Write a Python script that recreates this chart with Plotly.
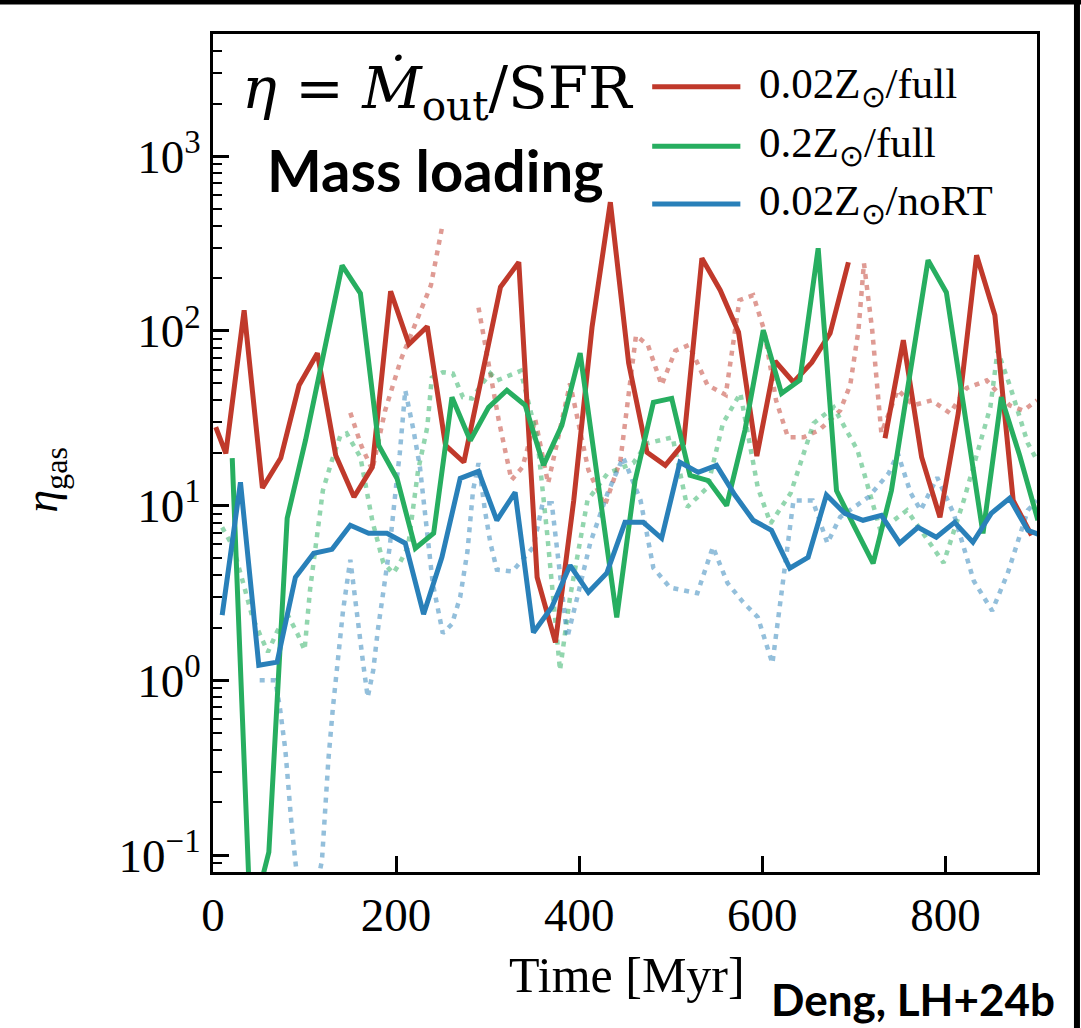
import plotly.graph_objects as go

# ---------------- data ----------------
t_red = [3, 14, 34, 54, 74, 94, 114, 134, 154, 174, 194, 214, 234, 254, 274, 294, 314, 334, 354, 374,
         394, 414, 434, 454, 474, 494, 514, 534, 554, 574, 594, 614, 634, 654, 674, 694, 714, 734, 754, 774,
         794, 814, 834, 854, 874, 894]
eta_red = [28.1, 19.9, 131, 12.6, 18.7, 48.8, 74.5, 19.4, 11.2, 16.6, 168.6, 83.8, 106, 22.1, 17.7, 58, 178, 247, 3.89, 1.65,
           10.7, 105, 545, 65.3, 20.2, 17.0, 22.7, 260, 171, 98.2, 19.2, 67, 50.8, 66, 96.9, 247, None, 24.3, 88.4, 18.9,
           8.57, 33.8, 271, 123, 10.7, 6.76]

t_green = [21, 41, 61, 81, 101, 121, 141, 161, 181, 201, 221, 241, 261, 281, 301, 321, 341, 361, 381, 401,
           421, 441, 461, 481, 501, 521, 541, 561, 581, 601, 621, 641, 661, 681, 701, 721, 741, 761, 781, 801,
           821, 841, 861, 881, 901]
eta_green = [18.7, 0.04, 0.104, 8.46, 23.6, 77.4, 237, 164, 22.1, 14.3, 5.7, 6.94, 41.7, 23.6, 36.5, 45.7, 37.5, 17.0, 28.8, 74.5,
             13.8, 2.29, 13.9, 39, 41.1, 14.9, 13.9, 10.0, 27.0, 101, 43.9, 52.2, 297, 12.2, 7.5, 4.67, 12.2, 55.7, 254, 166,
             35.1, 6.94, 41.7, 19.4, 8.24]

t_blue = [10, 30, 50, 70, 90, 110, 130, 150, 170, 190, 210, 230, 250, 270, 290, 310, 330, 350, 370, 390,
          410, 430, 450, 470, 490, 510, 530, 550, 570, 590, 610, 630, 650, 670, 690, 710, 730, 750, 770, 790,
          810, 830, 850, 870, 890, 910]
eta_blue = [2.36, 13.6, 1.22, 1.27, 3.89, 5.33, 5.62, 7.71, 6.94, 6.94, 6.09, 2.39, 5.06, 14.3, 15.7, 8.24, 11.9, 1.88, 2.62, 4.55,
            3.19, 4.1, 8.02, 8.02, 6.5, 17.7, 15.5, 17.0, 11.5, 8.24, 7.22, 4.38, 5.06, 11.5, 9.03, 8.24, 8.8, 6.09, 7.51, 6.59,
            8.02, 6.17, 9.03, 11.0, 7.22, 6.59]

# faded dotted companions
t_red_dot = [150, 162, 174, 188, 205, 222, 238, 250, 268, 290, 300, 312, 326, 338, 352, 366, 390, 410, 428, 445,
             462, 475, 490, 505, 520, 540, 560, 575, 590, 602, 615, 628, 645, 662, 685, 696, 705, 711, 720, 730,
             748, 765, 785, 805, 823, 845, 870, 885, 900]
eta_red_dot = [34, 22, 16, 35, 68, 115, 182, 387, None, 136, 68, 31, 14, 16.6, 31, 13.4, 50, 16, 10, 18.2,
               94, 83, 49, 77, 83, 49, 43, 150, 160, 101, 40, 24.6, 24.6, 27, 35, 49, 101, 244, 101, 26,
               46, 37.5, 40, 33.8, 47, 52, 37.5, 35, 40]

t_green_dot = [10, 22, 33, 43, 54, 60, 70, 81, 92, 100, 106, 115, 120, 130, 139, 146, 161, 174, 186, 197,
               204, 213, 224, 234, 239, 251, 262, 273, 283, 294, 303, 310, 336, 354, 365, 379, 390, 409, 431, 459,
               474, 502, 518, 540, 557, 576, 595, 609, 631, 656, 678, 704, 729, 758, 798, 820, 849, 857, 871, 890, 900]
eta_green_dot = [7.5, 5.8, 3.6, 2.3, 1.7, 1.45, 1.9, 2.4, 1.86, 1.49, 3.3, 7.5, 12.2, 18.2, 25, 25.9, 18.9, 8.2, 4.7, 4.1,
                 4.7, 5.8, 15.9, 28, 54, 58, 57, 41.7, 41, 50, 57, 52, 59, 24.6, 6.9, 1.14, 3.0, 10.7, 15.3, 17.5,
                 22.7, 24.6, 9.8, 12.7, 29.6, 44, 12.7, 7.9, 11.8, 29.6, 36.5, 20.7, 7.2, 9.4, 4.7, 10.7, 36.5, 77, 47.5, 22.7, 18.2]

t_blue_dot = [51, 68, 73, 79, 82, 86, 100, 119, 122, 126, 131, 137, 142, 150, 153, 158, 164, 169, 175, 180,
              186, 193, 201, 204, 210, 219, 226, 234, 240, 251, 261, 270, 278, 284, 290, 297, 303, 310, 327, 350,
              360, 370, 377, 387, 398, 412, 431, 448, 467, 481, 499, 529, 546, 562, 579, 595, 611, 622, 634, 655,
              671, 685, 716, 738, 748, 762, 773, 791, 809, 831, 851, 868, 890, 900]
eta_blue_dot = [1.0, 1.0, 0.70, 0.40, 0.26, 0.144, 0.03, 0.093, 0.164, 0.35, 0.70, 1.49, 2.5, 4.9, 3.6, 2.1, 1.25, 0.80, 1.14, 1.93,
                3.3, 5.8, 14.5, 19.9, 45.7, 27, 16.6, 7.2, 3.6, 1.86, 2.1, 3.0, 5.5, 12.2, 17.5, 9.4, 6.1, 4.3, 4.2, 5.8,
                10.3, 10.3, 5.1, 1.76, 3.0, 6.1, 11.8, 18.9, 10.7, 4.4, 3.4, 3.15, 5.8, 3.6, 2.8, 2.3, 1.25, 3.7, 10.7, 10.7,
                6.1, 8.6, 11.2, 15.3, 19.9, 11.8, 9.4, 14.5, 9.0, 3.7, 2.5, 4.1, 9.4, 10.7]

legend_labels = ["0.02Z<sub>⊙</sub>/full", "0.2Z<sub>⊙</sub>/full", "0.02Z<sub>⊙</sub>/noRT"]
y_tick_vals = [0.1, 1, 10, 100, 1000]
y_tick_text = ["10<sup>−1</sup>", "10<sup>0</sup>", "10<sup>1</sup>", "10<sup>2</sup>", "10<sup>3</sup>"]
x_tick_vals = [0, 200, 400, 600, 800]

RED, GREEN, BLUE = "#c0392b", "#27ae60", "#2980b9"
SERIF = "Liberation Serif"
SANS = "Lato"

fig = go.Figure()

for t, v, c in [(t_red_dot, eta_red_dot, RED), (t_green_dot, eta_green_dot, GREEN), (t_blue_dot, eta_blue_dot, BLUE)]:
    fig.add_trace(go.Scatter(x=t, y=v, mode="lines", opacity=0.5, showlegend=False,
                             line=dict(color=c, width=4.5, dash="5px,6px"), connectgaps=False))

for t, v, c, name in [(t_red, eta_red, RED, legend_labels[0]), (t_green, eta_green, GREEN, legend_labels[1]),
                      (t_blue, eta_blue, BLUE, legend_labels[2])]:
    fig.add_trace(go.Scatter(x=t, y=v, mode="lines", name=name, showlegend=False,
                             line=dict(color=c, width=5), connectgaps=False))

# manual legend (long line samples like the original)
leg_y = [0.937, 0.866, 0.797]
for c, lab, yy in zip([RED, GREEN, BLUE], legend_labels, leg_y):
    fig.add_shape(type="line", xref="paper", yref="paper", x0=0.533, x1=0.640, y0=yy, y1=yy,
                  line=dict(color=c, width=5))
    fig.add_annotation(xref="paper", yref="paper", x=0.660, y=yy, xanchor="left", yanchor="middle",
                       text=lab, showarrow=False, font=dict(family=SERIF, size=43, color="black"))

# outer frame edges visible in the original picture (top and right)
fig.add_shape(type="line", xref="paper", yref="paper", x0=-0.26, x1=1.054, y0=1.0382, y1=1.0382,
              line=dict(color="black", width=5))
fig.add_shape(type="line", xref="paper", yref="paper", x0=1.0485, x1=1.0485, y0=-0.19, y1=1.041,
              line=dict(color="black", width=6))

minor_vals = [m * 10 ** e for e in range(-2, 4) for m in range(2, 10)]

fig.update_layout(
    width=1081, height=1028,
    margin=dict(l=213, r=44, t=34, b=156),
    paper_bgcolor="white", plot_bgcolor="white",
    showlegend=False,
    xaxis=dict(range=[0, 900], tickvals=x_tick_vals, ticks="inside", ticklen=16, tickwidth=3, tickcolor="black",
               showline=True, linecolor="black", linewidth=3, mirror=True, showgrid=False, zeroline=False,
               tickfont=dict(family=SERIF, size=47, color="black")),
    yaxis=dict(type="log", range=[-1.097, 3.699], tickvals=y_tick_vals, ticktext=y_tick_text,
               ticks="inside", ticklen=16, tickwidth=3, tickcolor="black",
               minor=dict(tickvals=minor_vals, ticks="inside", ticklen=9, tickwidth=2, tickcolor="black", showgrid=False),
               showline=True, linecolor="black", linewidth=3, mirror=True, showgrid=False, zeroline=False,
               tickfont=dict(family=SERIF, size=47, color="black")),
)

# axis titles and text annotations
fig.add_annotation(xref="paper", yref="paper", x=0.503, y=-0.123, text="Time [Myr]", showarrow=False,
                   xanchor="center", yanchor="middle", font=dict(family=SERIF, size=50, color="black"))
fig.add_annotation(xref="paper", yref="paper", x=-0.204, y=0.468, text="<i>η</i><sub>gas</sub>", showarrow=False,
                   textangle=-90, xanchor="center", yanchor="middle", font=dict(family=SERIF, size=46, color="black"))
fig.add_annotation(xref="paper", yref="paper", x=0.033, y=0.931,
                   text="<i>η</i> = <i>Ṁ</i><sub>out</sub>/SFR",
                   showarrow=False, xanchor="left", yanchor="middle", font=dict(family="DejaVu Serif", size=58, color="black"))
fig.add_annotation(xref="paper", yref="paper", x=0.063, y=0.838, text="<b>Mass loading</b>", showarrow=False,
                   xanchor="left", yanchor="middle", font=dict(family=SANS, size=58, color="black"))
fig.add_annotation(xref="paper", yref="paper", x=0.850, y=-0.1515, text="<b>Deng, LH+24b</b>", showarrow=False,
                   xanchor="center", yanchor="middle", font=dict(family=SANS, size=44, color="black"))

fig.write_html("out.html")
